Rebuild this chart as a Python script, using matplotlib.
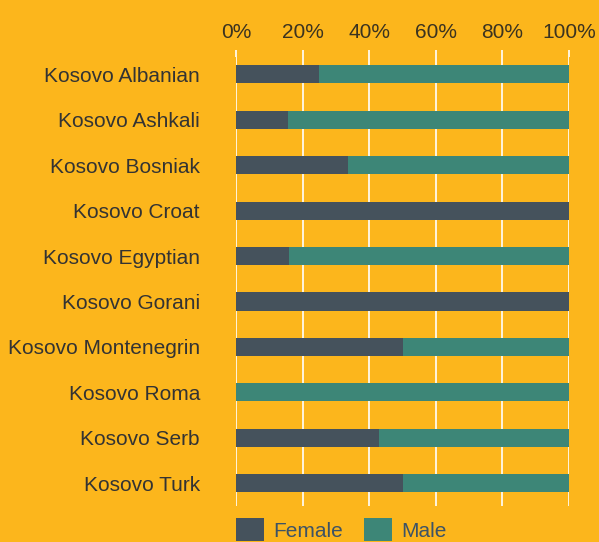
import numpy as np
import matplotlib.pyplot as plt

plt.rcParams['font.family'] = ['Liberation Sans', 'DejaVu Sans']

groups = ["Kosovo Albanian", "Kosovo Ashkali", "Kosovo Bosniak", "Kosovo Croat",
          "Kosovo Egyptian", "Kosovo Gorani", "Kosovo Montenegrin", "Kosovo Roma",
          "Kosovo Serb", "Kosovo Turk"]
female = [25, 15.5, 33.5, 100, 16, 100, 50, 0, 43, 50]
male = [100 - f for f in female]
ticks = [0, 20, 40, 60, 80, 100]
tick_labels = ["0%", "20%", "40%", "60%", "80%", "100%"]

bg = "#FCB61C"
c_f = "#45525C"
c_m = "#3D8677"

fig = plt.figure(figsize=(5.99, 5.42), dpi=100, facecolor=bg)
ax = fig.add_axes([236/599, 1-506/542, 333/599, 449/542])
ax.set_facecolor(bg)

y = np.arange(len(groups))
ax.barh(y, female, height=0.4, color=c_f, label="Female", zorder=3)
ax.barh(y, male, left=female, height=0.4, color=c_m, label="Male", zorder=3)

ax.set_xlim(0, 100)
ax.set_ylim(9.5, -0.38)
ax.set_xticks(ticks)
ax.set_xticklabels(tick_labels)
ax.xaxis.tick_top()
ax.tick_params(axis='x', colors='white', length=5, width=1.2, pad=6,
               labelsize=15, labelcolor='#3b3320')
ax.set_yticks(y)
ax.set_yticklabels(groups)
ax.tick_params(axis='y', length=0, pad=26, labelsize=15, labelcolor='#333333')
ax.grid(axis='x', color='white', linewidth=1.2, zorder=0)
for s in ax.spines.values():
    s.set_visible(False)

leg = fig.legend(loc='upper left', bbox_to_anchor=(236/599, 1-518/542), ncol=2,
                 frameon=False, fontsize=15, handlelength=1.35, handleheight=1.35,
                 columnspacing=1.0, handletextpad=0.45, borderpad=0,
                 borderaxespad=0)
for t in leg.get_texts():
    t.set_color('#3d5366')

fig.savefig("out.png", dpi=100, facecolor=bg)
